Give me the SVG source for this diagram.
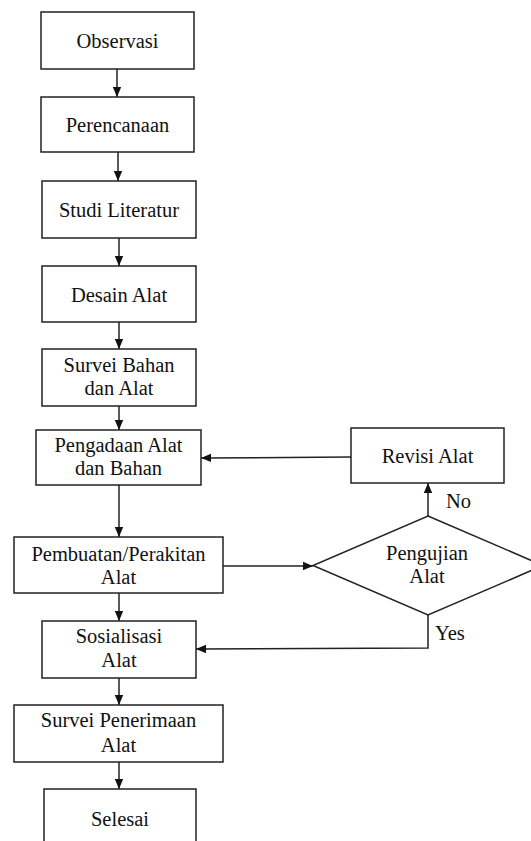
<svg xmlns="http://www.w3.org/2000/svg" width="531" height="841" viewBox="0 0 531 841">
<style>
.box{fill:#fff;stroke:#222;stroke-width:1.5}
.t{font-family:'Liberation Serif','Times New Roman',serif;font-size:20.5px;fill:#111;text-anchor:middle}
.l{font-family:'Liberation Serif','Times New Roman',serif;font-size:20.5px;fill:#111}
.c{fill:none;stroke:#222;stroke-width:1.5}
</style>
<defs>
<marker id="ah" markerUnits="userSpaceOnUse" markerWidth="10" markerHeight="10" viewBox="0 0 10 10" refX="10" refY="5" orient="auto">
<path d="M0,0.8 L10,5 L0,9.2 Z" fill="#111"/>
</marker>
</defs>
<rect width="531" height="841" fill="#fff"/>
<g id="connectors">
<line class="c" x1="117" y1="69" x2="117" y2="97" marker-end="url(#ah)"/>
<line class="c" x1="118" y1="152" x2="118" y2="181" marker-end="url(#ah)"/>
<line class="c" x1="119" y1="238" x2="119" y2="266" marker-end="url(#ah)"/>
<line class="c" x1="119" y1="322" x2="119" y2="349" marker-end="url(#ah)"/>
<line class="c" x1="119" y1="406" x2="119" y2="430" marker-end="url(#ah)"/>
<line class="c" x1="119" y1="485" x2="119" y2="537" marker-end="url(#ah)"/>
<line class="c" x1="119" y1="593" x2="119" y2="621" marker-end="url(#ah)"/>
<line class="c" x1="119" y1="678" x2="119" y2="705" marker-end="url(#ah)"/>
<line class="c" x1="119" y1="762" x2="119" y2="789" marker-end="url(#ah)"/>
<line class="c" x1="223" y1="566" x2="313" y2="566" marker-end="url(#ah)"/>
<line class="c" x1="428" y1="516" x2="428" y2="483" marker-end="url(#ah)"/>
<line class="c" x1="351" y1="457" x2="201" y2="458" marker-end="url(#ah)"/>
<polyline class="c" points="428,615 428,648 196,649" marker-end="url(#ah)"/>
<text class="l" x="446" y="508">No</text>
<text class="l" x="435" y="640">Yes</text>
</g>
<g id="observasi"><rect class="box" x="41" y="12" width="153" height="57"/><text class="t" x="117.5" y="48">Observasi</text></g>
<g id="perencanaan"><rect class="box" x="41" y="97" width="153" height="55"/><text class="t" x="117.5" y="132">Perencanaan</text></g>
<g id="studi"><rect class="box" x="42" y="181" width="154" height="57"/><text class="t" x="119" y="217">Studi Literatur</text></g>
<g id="desain"><rect class="box" x="42" y="266" width="154" height="56"/><text class="t" x="119" y="302">Desain Alat</text></g>
<g id="survei-bahan"><rect class="box" x="42" y="349" width="154" height="57"/><text class="t" x="119" y="372">Survei Bahan</text><text class="t" x="119" y="395">dan Alat</text></g>
<g id="pengadaan"><rect class="box" x="36" y="430" width="165" height="55"/><text class="t" x="118.5" y="452">Pengadaan Alat</text><text class="t" x="118.5" y="475">dan Bahan</text></g>
<g id="pembuatan"><rect class="box" x="14" y="537" width="209" height="56"/><text class="t" x="118.5" y="561">Pembuatan/Perakitan</text><text class="t" x="118.5" y="584">Alat</text></g>
<g id="sosialisasi"><rect class="box" x="42" y="621" width="154" height="57"/><text class="t" x="119" y="643">Sosialisasi</text><text class="t" x="119" y="667">Alat</text></g>
<g id="survei-penerimaan"><rect class="box" x="14" y="705" width="209" height="57"/><text class="t" x="118.5" y="727">Survei Penerimaan</text><text class="t" x="118.5" y="752">Alat</text></g>
<g id="selesai"><rect class="box" x="44" y="789" width="152" height="70"/><text class="t" x="120" y="826">Selesai</text></g>
<g id="revisi"><rect class="box" x="351" y="428" width="153" height="55"/><text class="t" x="427.5" y="463">Revisi Alat</text></g>
<g id="pengujian"><polygon class="box" points="428,516 543,565.5 428,615 313,565.5"/><text class="t" x="427" y="560">Pengujian</text><text class="t" x="427" y="583">Alat</text></g>
</svg>
